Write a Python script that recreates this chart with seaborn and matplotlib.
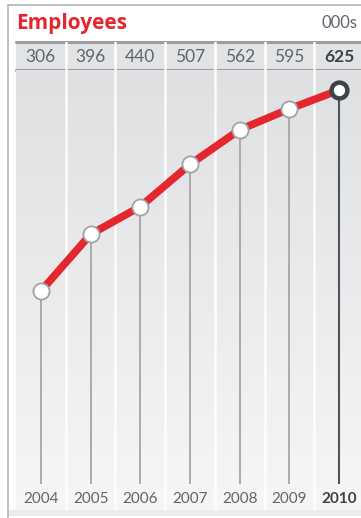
import numpy as np
import pandas as pd
import matplotlib
matplotlib.use("Agg")
import matplotlib.pyplot as plt
import seaborn as sns

# ---- data ----
years = ["2004", "2005", "2006", "2007", "2008", "2009", "2010"]
employees = [306, 396, 440, 507, 562, 595, 625]
title = "Employees"
unit = "000s"

sns.set_theme(style="white")
plt.rcParams["font.family"] = ["Lato", "DejaVu Sans"]

W, H = 361, 518
fig = plt.figure(figsize=(W / 100, H / 100), dpi=100)
fig.patch.set_facecolor("white")

def fx(px):
    return px / W

def fy(py):
    return 1 - py / H

RED = "#e4262e"
GREY_TXT = "#5f656c"
DARK = "#3b4249"

# column geometry (pixels)
left_px, right_px = 16, 364
n = len(years)

# ---- outer frame lines ----
fig.add_artist(plt.Line2D([fx(8), fx(8)], [fy(5), fy(518)], color="#b9b9b9", lw=1.3))
fig.add_artist(plt.Line2D([fx(8), fx(361)], [fy(5), fy(5)], color="#b9b9b9", lw=1.3))
# soft shadow under the panel
fig.add_artist(plt.Rectangle((fx(9), fy(516)), fx(361 - 9), (516 - 510) / H,
                             color="#ececec", lw=0, zorder=0))

# ---- title ----
fig.text(fx(16), fy(23), title, color=RED, fontsize=15, fontweight="bold",
         va="center", ha="left", family=["Open Sans", "DejaVu Sans"])
fig.text(fx(358), fy(23), unit, color=GREY_TXT, fontsize=12, va="center", ha="right")

# ---- header band with values ----
hax = fig.add_axes([fx(left_px), fy(70), fx(right_px - left_px), (70 - 42) / H])
hax.set_xlim(-0.5, n - 0.5)
hax.set_ylim(0, 1)
hax.set_facecolor("#e2e3e5")
for s in hax.spines.values():
    s.set_visible(False)
hax.set_xticks([])
hax.set_yticks([])
hax.axhline(1, color="#9a9c9f", lw=2.2, clip_on=False)
hax.axhline(0, color="#9a9c9f", lw=2.2, clip_on=False)
for i in range(n - 1):
    hax.axvline(i + 0.5, color="white", lw=1.8)
for i, v in enumerate(employees):
    last = i == n - 1
    hax.text(i, 0.48, str(v), ha="center", va="center", fontsize=12.5,
             color=DARK if last else GREY_TXT, fontweight="bold" if last else "normal")

# ---- main chart ----
ax = fig.add_axes([fx(left_px), fy(510), fx(right_px - left_px), (510 - 70) / H])
ax.set_xlim(-0.5, n - 0.5)
ppu = (484 - 90) / 625.0
ymax = (484 - 70) / ppu
ymin = -(510 - 484) / ppu
ax.set_ylim(ymin, ymax)
for s in ax.spines.values():
    s.set_visible(False)
ax.set_xticks([])
ax.set_yticks([])

# gradient background
grad = np.linspace(0, 1, 256).reshape(-1, 1)
cmap = matplotlib.colors.LinearSegmentedColormap.from_list("g", ["#dfe0e2", "#f6f6f6"])
ax.imshow(grad, aspect="auto", cmap=cmap, extent=[-0.5, n - 0.5, ymin, ymax],
          origin="upper", zorder=0)

for i in range(n - 1):
    ax.axvline(i + 0.5, color="white", lw=1.8, alpha=0.9, zorder=1)

df = pd.DataFrame({"x": np.arange(n), "year": years, "value": employees})

# stems
ax.vlines(df["x"][:-1], 0, df["value"][:-1], color="#a4a5a7", lw=1.3, zorder=2)
ax.vlines(df["x"][-1:], 0, df["value"][-1:], color="#4d545b", lw=1.5, zorder=2)

# line
sns.lineplot(data=df, x="x", y="value", ax=ax, color=RED, lw=5.5, zorder=3,
             solid_capstyle="round")
# markers
sns.scatterplot(data=df.iloc[:-1], x="x", y="value", ax=ax, s=135, color="white",
                edgecolor="#a0a2a4", linewidth=1.3, zorder=4)
sns.scatterplot(data=df.iloc[-1:], x="x", y="value", ax=ax, s=130, color="white",
                edgecolor=DARK, linewidth=3.2, zorder=5)
ax.set_xlabel("")
ax.set_ylabel("")
ax.set_xlim(-0.5, n - 0.5)
ax.set_ylim(ymin, ymax)

# year labels
ylab = -(499 - 484) / ppu
for i, yr in enumerate(years):
    last = i == n - 1
    ax.text(i, ylab, yr, ha="center", va="center", fontsize=11,
            color=DARK if last else GREY_TXT, fontweight="bold" if last else "normal",
            zorder=6)

fig.savefig("out.png", dpi=100, facecolor="white")
